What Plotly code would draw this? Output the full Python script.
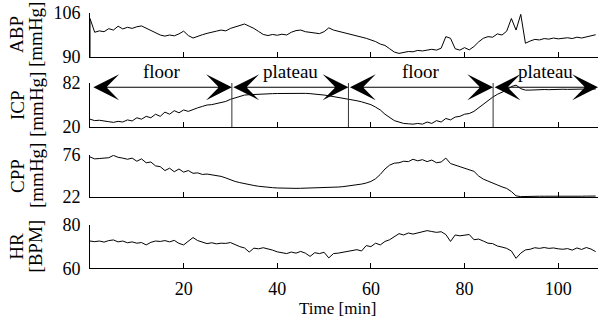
import plotly.graph_objects as go

# ---------------- data ----------------
minutes = list(range(109))

abp_onset = 90.0  # recorded value at t=0 before the first sample
abp = [104.0, 99.0, 99.5, 99.2, 100.3, 99.8, 101.2, 100.2, 100.8, 100.4,
       101.0, 101.3, 100.5, 99.5, 98.6, 98.0, 97.6, 98.0, 97.7, 98.4,
       99.4, 97.8, 96.9, 97.6, 98.1, 98.6, 98.9, 99.4, 99.8, 99.5,
       100.4, 100.9, 101.4, 102.0, 101.2, 100.4, 99.3, 98.2, 97.8, 98.2,
       97.9, 98.3, 98.0, 99.0, 99.6, 99.8, 99.2, 98.9, 98.7, 98.5,
       99.2, 100.6, 99.8, 99.4, 98.9, 98.6, 98.2, 97.8, 97.2, 96.8,
       96.2, 95.6, 94.7, 94.2, 93.0, 91.8, 91.3, 91.6, 92.0, 91.9,
       92.4, 92.2, 92.6, 92.8, 92.5, 93.2, 97.4, 96.8, 93.0, 92.5,
       93.4, 92.6, 93.8, 95.5, 96.8, 97.4, 97.2, 98.4, 98.0, 99.4,
       104.0, 99.8, 105.5, 95.0, 95.8, 96.4, 96.2, 96.7, 96.5, 96.9,
       96.6, 96.8, 97.0, 96.7, 97.2, 96.9, 97.3, 97.5, 98.1]

icp = [31, 29, 29.5, 28, 27.5, 26.5, 28, 27, 30, 28.5,
       33, 31, 35, 33, 38, 35, 41, 38, 43, 40,
       44, 42, 45, 47, 49, 51, 51.5, 53, 54, 56,
       59, 61, 63.5, 65, 65.5, 66, 66.2, 66.5, 66.8, 67,
       67.2, 67.4, 67.6, 67.8, 68, 67.8, 67.4, 67, 66.6, 66,
       65, 64, 63, 62, 61, 60, 58.5, 57, 55.5, 53.5,
       51.5, 48, 44, 38, 33, 29, 27, 25, 24.5, 24,
       25, 24, 27, 25, 29, 27, 32, 30, 34, 35,
       38, 39, 42, 47, 53, 58, 62, 66, 69, 72,
       77, 79, 74, 72, 72, 72.5, 72.6, 72.8, 72.6, 73,
       73, 73.2, 73, 73.3, 73.2, 73.4, 73.5, 73.4, 73.5]

cpp = [73.5, 71, 71.5, 72, 72.5, 75.5, 73, 72, 70.5, 72,
       68, 71, 66, 67, 62, 61, 56, 59, 54.5, 58,
       54, 56, 52.5, 53, 51, 51.5, 50.5, 50, 48.5, 46.5,
       44, 42, 40.5, 39, 37.8, 36.8, 35.8, 35, 34.4, 34,
       33.6, 33.3, 33.2, 33.1, 33.1, 33.2, 33.3, 33.4, 33.6, 33.7,
       33.8, 34, 34.3, 34.8, 35.3, 36, 36.7, 37.5, 38.6, 40,
       42, 45.5, 51, 58, 63, 65.5, 66, 68, 67.5, 70.5,
       68.5, 70, 67.5, 69.5, 66, 67, 72, 65, 63, 61,
       59.5, 58, 55, 49, 45, 42.5, 40.5, 37.5, 35, 33,
       29, 23.5, 22.5, 22.8, 23, 22.9, 23, 23, 22.9, 23,
       23, 23, 23.1, 23, 23, 23, 23.1, 23, 23.2]

hr = [72.6, 72.3, 72.6, 72.1, 72.8, 73.1, 72.2, 72.6, 71.8, 72.2,
      71.6, 71.9, 70.8, 72.0, 72.6, 72.4, 72.8, 72.2, 72.9, 71.5,
      70.8, 72.6, 74.2, 72.8, 72.0, 71.4, 71.8, 71.3, 71.6, 71.5,
      71.9, 70.8, 70.0, 69.4, 67.5, 69.3, 69.0, 69.5, 69.0, 68.4,
      67.6, 67.2, 66.8, 67.5, 67.0, 67.8, 67.0, 65.5, 67.2, 66.8,
      67.4, 64.8, 66.8, 67.0, 67.4, 67.8, 68.2, 68.6, 68.0, 70.5,
      70.0, 71.6, 70.8, 72.4, 73.2, 74.8, 76.0, 75.4, 76.3, 75.8,
      76.4, 76.8, 77.4, 77.0, 76.6, 76.9, 75.6, 72.4, 75.4, 75.0,
      75.2, 75.6, 73.2, 73.5, 72.6, 71.6, 71.4, 70.3, 69.8, 69.2,
      68.0, 64.6, 67.0, 68.5, 68.8, 69.5, 69.2, 69.6, 69.2, 69.4,
      69.0, 68.8, 69.1, 68.4, 69.4, 68.7, 69.6, 68.9, 67.7]

panel_names = ["ABP", "ICP", "CPP", "HR"]
panel_units = ["[mmHg]", "[mmHg]", "[mmHg]", "[BPM]"]
panel_lo = [90, 20, 22, 60]
panel_hi = [106, 82, 76, 80]
x_ticks = [20, 40, 60, 80, 100]
x_range = [0, 108.5]

phase_bounds = [0.4, 30.3, 55.2, 86.1, 108.5]
phase_labels = ["floor", "plateau", "floor", "plateau"]
arrow_level = 76  # ICP units

# ---------------- figure ----------------
FONT = "Liberation Serif"
W, H = 600, 318
x_dom = [90 / W, 598 / W]
panel_px = [(13, 57), (83, 127), (155, 197), (225, 268.3)]  # top, bottom pixel rows
series = [abp, icp, cpp, hr]

fig = go.Figure()
layout = dict(width=W, height=H, margin=dict(l=0, r=0, t=0, b=0, autoexpand=False),
              paper_bgcolor="white", plot_bgcolor="white", showlegend=False,
              font=dict(family=FONT, size=18, color="black"))

for i in range(4):
    n = i + 1
    xs = "" if n == 1 else str(n)
    top, bot = panel_px[i]
    ydom = [1 - bot / H, 1 - top / H]
    layout["xaxis" + xs] = dict(
        domain=x_dom, range=x_range, anchor="y" + xs,
        showline=True, linecolor="black", linewidth=1,
        ticks="inside", ticklen=5, tickwidth=1, tickcolor="black",
        tickvals=x_ticks, showticklabels=(n == 4), ticklabelstandoff=4,
        showgrid=False, zeroline=False, tickfont=dict(family=FONT, size=18),
        automargin=False)
    layout["yaxis" + xs] = dict(
        domain=ydom, range=[panel_lo[i], panel_hi[i]], anchor="x" + xs,
        showline=True, linecolor="black", linewidth=1,
        ticks="inside", ticklen=4, tickwidth=1, tickcolor="black",
        tickvals=[panel_lo[i], panel_hi[i]], ticklabelstandoff=5,
        showgrid=False, zeroline=False, tickfont=dict(family=FONT, size=18),
        automargin=False)

    xv = list(minutes)
    yv = list(series[i])
    if i == 0:
        xv = [minutes[0]] + xv
        yv = [abp_onset] + yv
    fig.add_trace(go.Scatter(x=xv, y=yv, mode="lines",
                             line=dict(color="black", width=1),
                             xaxis="x" + xs, yaxis="y" + xs, hoverinfo="skip"))

annotations = []
shapes = []

# y titles (two rotated lines)
for i in range(4):
    xs = "" if i == 0 else str(i + 1)
    annotations.append(dict(text=panel_names[i], x=17 / W, xref="paper",
                            y=0.5, yref="y" + xs + " domain", textangle=-90,
                            xanchor="center", yanchor="middle", showarrow=False,
                            font=dict(family=FONT, size=19)))
    annotations.append(dict(text=panel_units[i], x=36 / W, xref="paper",
                            y=0.5, yref="y" + xs + " domain", textangle=-90,
                            xanchor="center", yanchor="middle", showarrow=False,
                            font=dict(family=FONT, size=19)))

# phase boundaries and double arrows on the ICP panel
for b in phase_bounds[1:-1]:
    shapes.append(dict(type="line", xref="x2", yref="y2 domain", x0=b, x1=b,
                       y0=0, y1=1, line=dict(color="#333", width=1)))

for k in range(len(phase_labels)):
    a, b = phase_bounds[k], phase_bounds[k + 1]
    annotations.append(dict(text="", x=b, y=arrow_level, xref="x2", yref="y2",
                            ax=a, ay=arrow_level, axref="x2", ayref="y2",
                            showarrow=True, arrowside="end+start",
                            arrowhead=3, startarrowhead=3,
                            arrowsize=4.3, startarrowsize=4.3,
                            arrowwidth=1, arrowcolor="black",
                            standoff=0, startstandoff=0))
    annotations.append(dict(text=phase_labels[k], x=(a + b) / 2, xref="x2",
                            y=1, yref="y2 domain", yshift=12,
                            xanchor="center", yanchor="middle", showarrow=False,
                            font=dict(family=FONT, size=19)))

annotations.append(dict(text="Time [min]", x=337 / W, xref="paper",
                        y=1 - 308 / H, yref="paper", xanchor="center",
                        yanchor="middle", showarrow=False,
                        font=dict(family=FONT, size=17)))

layout["annotations"] = annotations
layout["shapes"] = shapes
fig.update_layout(**layout)
fig.write_html("out.html",
               config={"displayModeBar": False},
               post_script="document.body.style.margin='0';"
                           "document.body.style.overflow='hidden';")
